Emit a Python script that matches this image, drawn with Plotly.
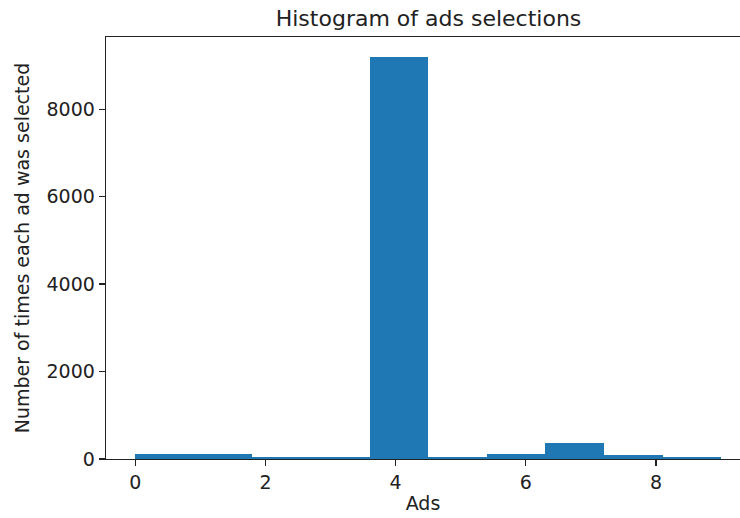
import numpy as np
import plotly.graph_objects as go

# Data: number of times each ad was selected (histogram, 10 bins over 0..9)
ads = list(range(10))
counts = [108, 105, 45, 45, 9190, 35, 110, 370, 95, 45]
bin_edges = np.linspace(0, 9, 11)
bin_centers = (bin_edges[:-1] + bin_edges[1:]) / 2
bin_width = bin_edges[1] - bin_edges[0]

x_ticks = [0, 2, 4, 6, 8]
y_ticks = [0, 2000, 4000, 6000, 8000]

fig = go.Figure(
    go.Bar(
        x=bin_centers,
        y=counts,
        width=bin_width,
        marker=dict(color="#1f77b4", line=dict(width=0)),
        hoverinfo="skip",
    )
)

font_family = "DejaVu Sans"
fig.update_layout(
    width=740,
    height=518,
    margin=dict(l=106, r=0, t=37, b=59, pad=0),
    paper_bgcolor="white",
    plot_bgcolor="white",
    font=dict(family=font_family, size=19, color="#222"),
    showlegend=False,
    bargap=0,
    title=dict(
        text="Histogram of ads selections",
        font=dict(size=22, color="#222"),
        x=(106 + 751) / 2 / 740,
        xanchor="center",
        yref="paper",
        y=1,
        yanchor="bottom",
        pad=dict(b=11),
    ),
)

fig.update_xaxes(
    range=[-0.45, 9.29],
    tickvals=x_ticks,
    ticktext=[str(t) for t in x_ticks],
    ticks="outside",
    ticklen=6,
    tickwidth=1.3,
    tickcolor="#222",
    showline=True,
    linecolor="#222",
    linewidth=1.3,
    mirror=True,
    showgrid=False,
    zeroline=False,
    title=dict(text="Ads", font=dict(size=19), standoff=4),
    automargin=False,
    tickfont=dict(size=19),
)
fig.update_yaxes(
    range=[0, 9650],
    tickvals=y_ticks,
    ticktext=[str(t) for t in y_ticks],
    ticks="outside",
    ticklen=6,
    tickwidth=1.3,
    tickcolor="#222",
    showline=True,
    linecolor="#222",
    linewidth=1.3,
    mirror=False,
    showgrid=False,
    zeroline=False,
    title=dict(text="Number of times each ad was selected", font=dict(size=19), standoff=12),
    automargin=False,
    tickfont=dict(size=19),
)

fig.write_html(
    "out.html",
    config={"displayModeBar": False, "staticPlot": True},
    post_script="document.body.style.margin='0';document.body.style.overflow='hidden';",
)
